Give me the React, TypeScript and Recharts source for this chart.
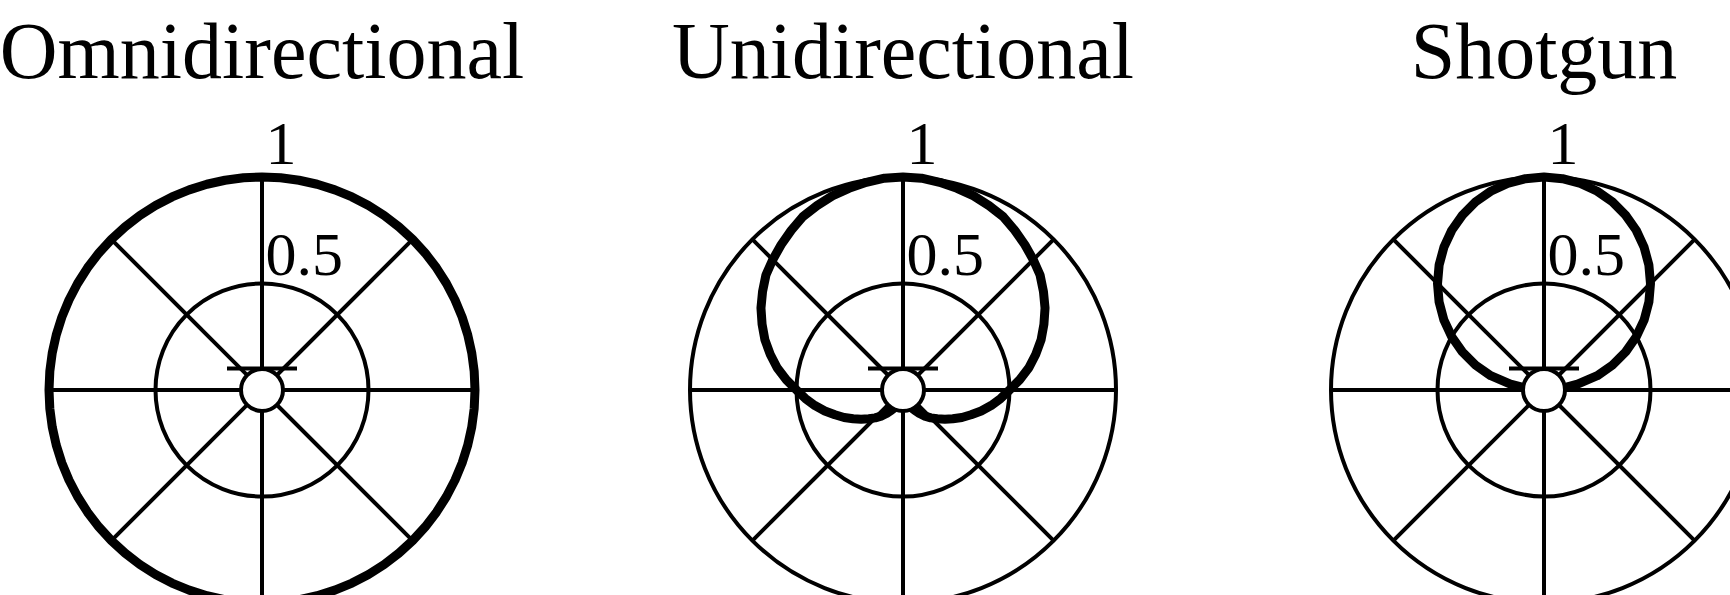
import React from 'react';
import { RadarChart, Radar, PolarGrid, PolarAngleAxis, PolarRadiusAxis } from 'recharts';

// angles in degrees, 0 = front (top), clockwise
const angles = [
  0, 5, 10, 15, 20, 25, 30, 35, 40, 45, 50, 55, 60, 65, 70, 75, 80, 85,
  90, 95, 100, 105, 110, 115, 120, 125, 130, 135, 140, 145, 150, 155, 160, 165, 170, 175,
  180, 185, 190, 195, 200, 205, 210, 215, 220, 225, 230, 235, 240, 245, 250, 255, 260, 265,
  270, 275, 280, 285, 290, 295, 300, 305, 310, 315, 320, 325, 330, 335, 340, 345, 350, 355,
];

const omniValues = [
  1, 1, 1, 1, 1, 1, 1, 1, 1, 1, 1, 1, 1, 1, 1, 1, 1, 1,
  1, 1, 1, 1, 1, 1, 1, 1, 1, 1, 1, 1, 1, 1, 1, 1, 1, 1,
  1, 1, 1, 1, 1, 1, 1, 1, 1, 1, 1, 1, 1, 1, 1, 1, 1, 1,
  1, 1, 1, 1, 1, 1, 1, 1, 1, 1, 1, 1, 1, 1, 1, 1, 1, 1,
];

const uniValues = [
  1, 0.998, 0.99, 0.98, 0.97, 0.955, 0.94, 0.915, 0.89, 0.865, 0.84, 0.805, 0.77, 0.73, 0.69, 0.645, 0.6, 0.55,
  0.5, 0.46, 0.42, 0.38, 0.34, 0.305, 0.27, 0.24, 0.21, 0.185, 0.16, 0.135, 0.11, 0.09, 0.07, 0.05, 0.03, 0.015,
  0, 0.015, 0.03, 0.05, 0.07, 0.09, 0.11, 0.135, 0.16, 0.185, 0.21, 0.24, 0.27, 0.305, 0.34, 0.38, 0.42, 0.46,
  0.5, 0.55, 0.6, 0.645, 0.69, 0.73, 0.77, 0.805, 0.84, 0.865, 0.89, 0.915, 0.94, 0.955, 0.97, 0.98, 0.99, 0.998,
];

const shotgunValues = [
  1, 0.996, 0.985, 0.966, 0.94, 0.906, 0.866, 0.819, 0.766, 0.707, 0.643, 0.574, 0.5, 0.423, 0.342, 0.259, 0.16, 0.08,
  0, 0, 0, 0, 0, 0, 0, 0, 0, 0, 0, 0, 0, 0, 0, 0, 0, 0,
  0, 0, 0, 0, 0, 0, 0, 0, 0, 0, 0, 0, 0, 0, 0, 0, 0, 0,
  0, 0.08, 0.16, 0.259, 0.342, 0.423, 0.5, 0.574, 0.643, 0.707, 0.766, 0.819, 0.866, 0.906, 0.94, 0.966, 0.985, 0.996,
];

const titles = ['Omnidirectional', 'Unidirectional', 'Shotgun'];
const radiusTicks = [0.5, 1];
const spokeAngles = [0, 45, 90, 135, 180, 225, 270, 315];

const CHART_W = 640;
const CHART_H = 595;
const CX = 320;
const CY = 390;
const R = 213;
const chartLefts = [-58, 583, 1224];
const THIN = 4;
const THICK = 9;
const FONT = '"Liberation Serif", "Times New Roman", serif';

const patterns = [omniValues, uniValues, shotgunValues];

function RadiusTick(props: any) {
  const { x, y, payload } = props;
  const lift = payload.value >= 1 ? 13.5 : 8.5;
  return (
    <text x={x + 3.5} y={y - lift} textAnchor="start" fontSize={62} fontFamily={FONT} fill="#000">
      {payload.value}
    </text>
  );
}

// little mic glyph sitting at the pole, drawn over the pattern
function MicOverlay() {
  return (
    <svg
      width={CHART_W}
      height={CHART_H}
      style={{ position: 'absolute', left: 0, top: 0, pointerEvents: 'none' }}
    >
      <line x1={CX - 35} x2={CX + 35} y1={CY - 21.5} y2={CY - 21.5} stroke="#000" strokeWidth={THIN} />
      <circle cx={CX} cy={CY} r={21} fill="#fff" stroke="#000" strokeWidth={THIN} />
    </svg>
  );
}

function PolarPattern({ title, values }: { title: string; values: number[] }) {
  const data = angles.map((a, i) => ({ angle: a, value: values[i] }));
  return (
    <RadarChart
      width={CHART_W}
      height={CHART_H}
      data={data}
      cx={CX}
      cy={CY}
      outerRadius={R}
      margin={{ top: 0, right: 0, bottom: 0, left: 0 }}
    >
      <PolarGrid gridType="circle" stroke="#000" strokeWidth={THIN} />
      <PolarAngleAxis
        dataKey="angle"
        type="number"
        domain={[0, 360]}
        ticks={spokeAngles}
        tick={false}
        tickLine={false}
        axisLine={false}
      />
      <PolarRadiusAxis
        angle={90}
        type="number"
        domain={[0, 1]}
        ticks={radiusTicks}
        tick={RadiusTick}
        tickLine={false}
        axisLine={false}
      />
      <Radar
        dataKey="value"
        stroke="#000"
        strokeWidth={THICK}
        strokeLinejoin="round"
        fill="none"
        fillOpacity={0}
        dot={false}
        isAnimationActive={false}
      />
      <text x={CX} y={78} textAnchor="middle" fontSize={80} fontFamily={FONT} fill="#000">
        {title}
      </text>
    </RadarChart>
  );
}

export default function App() {
  return (
    <div
      style={{
        position: 'absolute',
        left: 0,
        top: 0,
        width: 1730,
        height: 595,
        overflow: 'hidden',
        background: '#fff',
      }}
    >
      {titles.map((t, i) => (
        <div key={t} style={{ position: 'absolute', left: chartLefts[i], top: 0, width: CHART_W, height: CHART_H }}>
          <PolarPattern title={t} values={patterns[i]} />
          <MicOverlay />
        </div>
      ))}
    </div>
  );
}
